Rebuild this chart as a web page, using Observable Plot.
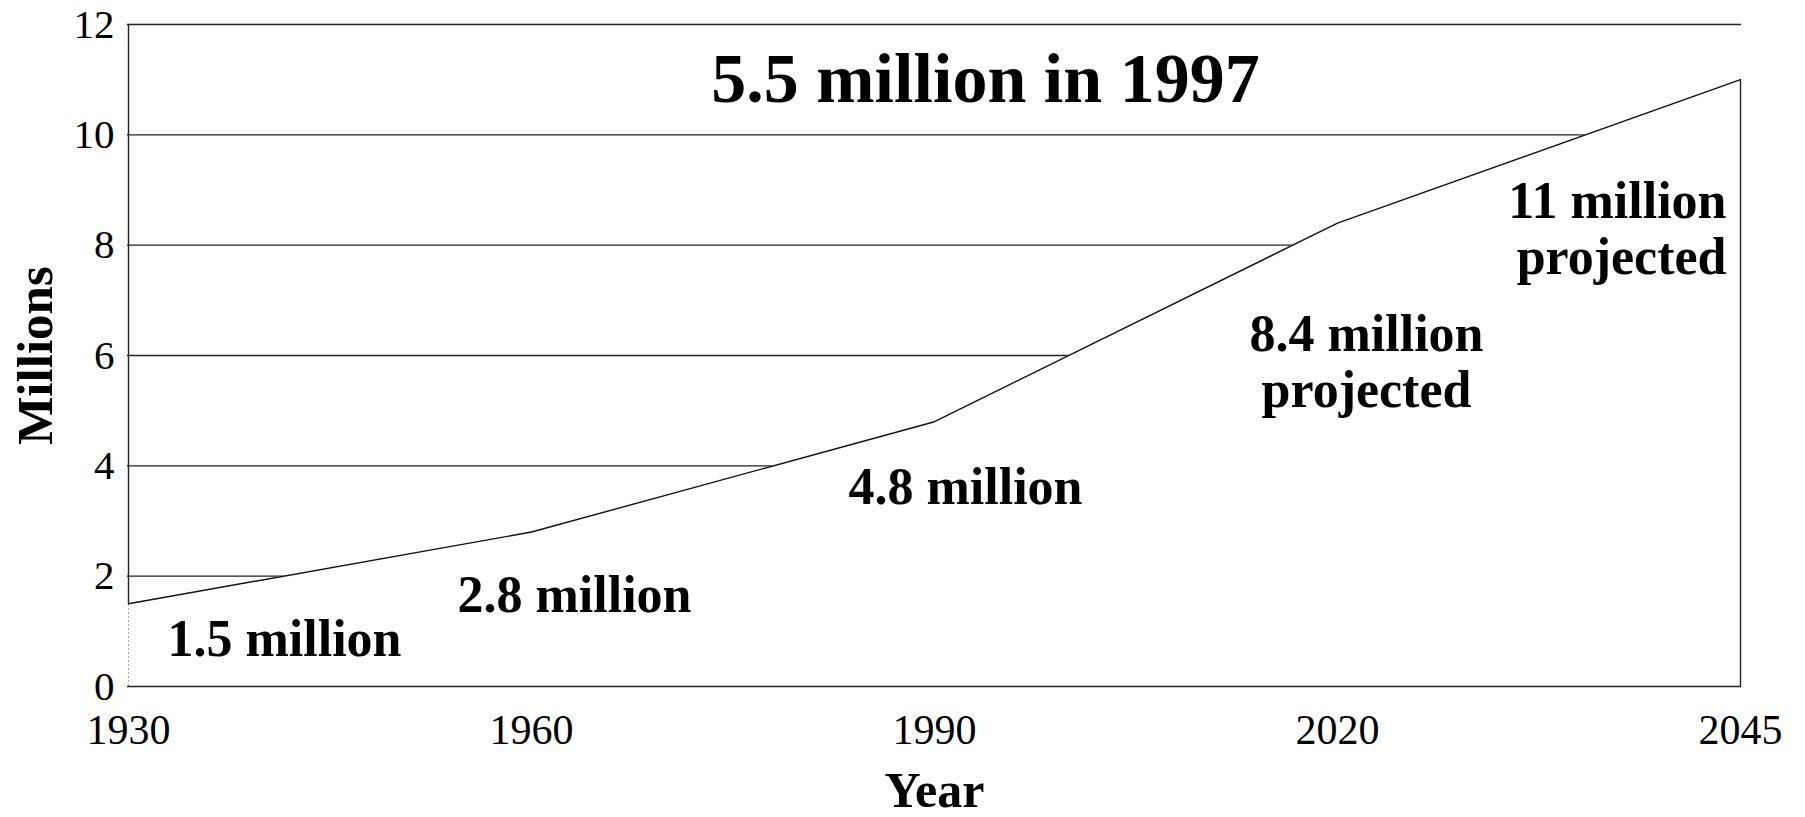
<!DOCTYPE html>
<html>
<head>
<meta charset="utf-8">
<script src="https://cdn.jsdelivr.net/npm/d3@7"></script>
<script src="https://cdn.jsdelivr.net/npm/@observablehq/plot@0.6"></script>
<style>
  html, body { margin: 0; padding: 0; background: #fff; }
  #chart { width: 1805px; height: 817px; overflow: hidden; }
</style>
</head>
<body>
<div id="chart"></div>
<script>
// ---- data ----
const years = ["1930", "1960", "1990", "2020", "2045"];
const population = [1.5, 2.8, 4.8, 8.4, 11];
const yTickValues = [0, 2, 4, 6, 8, 10, 12];
const gridValues = [2, 4, 6, 8, 10, 12];
const pointLabels = ["1.5 million", "2.8 million", "4.8 million", "8.4 million\nprojected", "11 million\nprojected"];
const titleText = "5.5 million in 1997";
const xLabel = "Year";
const yLabel = "Millions";

const table = years.map((year, i) => ({ year, value: population[i], label: pointLabels[i] }));
const first = table.slice(0, 1);
const last = table.slice(-1);

const serif = "'Liberation Serif', 'Times New Roman', Times, serif";
const labelSize = 52;

const labelMark = (i, opts) => Plot.text([table[i]], {
  x: "year", y: "value", text: "label",
  fontSize: labelSize, fontWeight: "bold", fill: "#000", lineHeight: 1.08,
  ...opts
});

const chart = Plot.plot({
  width: 1805,
  height: 817,
  marginLeft: 127,
  marginRight: 64,
  marginTop: 24,
  marginBottom: 131,
  style: { fontFamily: serif, background: "#fff", color: "#000", overflow: "visible" },
  x: { type: "point", domain: years, padding: 0, label: null },
  y: { domain: [0, 12], label: null },
  marks: [
    Plot.ruleY(gridValues, { stroke: "#222", strokeWidth: 1.4 }),
    Plot.ruleX(first, { x: "year", y1: "value", y2: 12, stroke: "#222", strokeWidth: 1.4 }),
    Plot.areaY(table, { x: "year", y: "value", fill: "#fff" }),
    Plot.ruleX(first, { x: "year", y1: 0, y2: "value", stroke: "#aaa", strokeWidth: 1, strokeDasharray: "2,2" }),
    Plot.line(table, { x: "year", y: "value", stroke: "#111", strokeWidth: 1.4 }),
    Plot.ruleY([0], { stroke: "#222", strokeWidth: 1.5 }),
    Plot.ruleX(last, { x: "year", y1: 0, y2: "value", stroke: "#222", strokeWidth: 1.4 }),
    Plot.axisY({ ticks: yTickValues, tickSize: 0, tickPadding: 13, fontSize: 41, label: null }),
    Plot.axisX({ tickSize: 0, tickPadding: 28, fontSize: 42, label: null }),
    Plot.text([titleText], { frameAnchor: "top", dx: 51, dy: 55, fontSize: 70, fontWeight: "bold", lineAnchor: "middle" }),
    Plot.text([xLabel], { frameAnchor: "bottom", dy: 104, fontSize: 50, fontWeight: "bold", lineAnchor: "middle" }),
    Plot.text([yLabel], { frameAnchor: "left", dx: -92, rotate: -90, fontSize: 51, fontWeight: "bold", textAnchor: "middle", lineAnchor: "middle" }),
    labelMark(0, { dx: 156, dy: 34, textAnchor: "middle", lineAnchor: "middle" }),
    labelMark(1, { dx: 43, dy: 62, textAnchor: "middle", lineAnchor: "middle" }),
    labelMark(2, { dx: 31, dy: 64, textAnchor: "middle", lineAnchor: "middle" }),
    labelMark(3, { dx: 29, dy: 88, textAnchor: "middle", lineAnchor: "top" }),
    labelMark(4, { dx: -14, dy: 98, textAnchor: "end", lineAnchor: "top" })
  ]
});

document.getElementById("chart").appendChild(chart);
</script>
</body>
</html>
